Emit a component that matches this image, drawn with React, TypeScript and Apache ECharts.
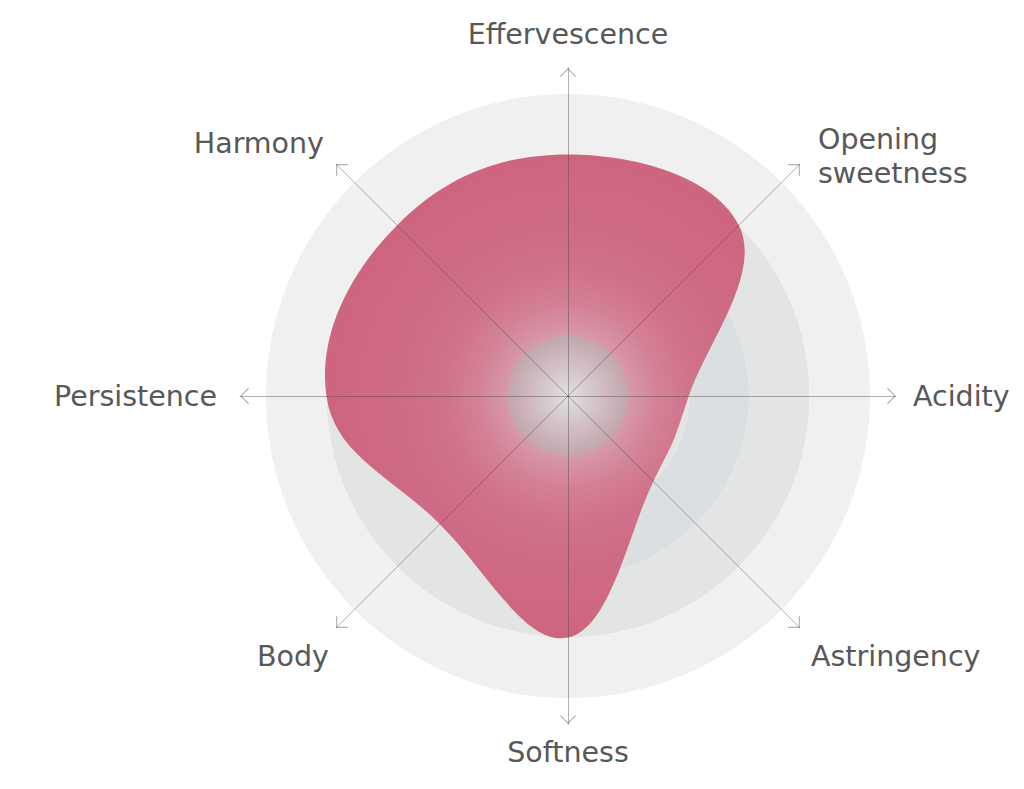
import React, { useEffect, useRef } from 'react';
import * as echarts from 'echarts';

// ---- data (clockwise from top) ----
const categories = ['Effervescence', 'Opening sweetness', 'Acidity', 'Astringency', 'Softness', 'Body', 'Persistence', 'Harmony'];
const values = [4, 4, 2, 2, 4, 3, 4, 4];
const maxValue = 5;
const ringCount = 5;

// ---- styles ----
const CENTER = [568, 396];
const RING_RADIUS = 302;
const AXIS_RADIUS = 328;
const TEXT_COLOR = '#585858';
const FONT = 'DejaVu Sans';
const FONT_SIZE = 28.5;
const PINK = '205,94,122';
// label padding per category [top, right, bottom, left]
const labelPadding = [
  [0, 0, 15, 0],
  [0, 0, 0, 11],
  [0, 0, 0, 7],
  [42, 0, 0, 4],
  [4, 0, 0, 0],
  [42, 0, 0, 0],
  [0, 13, 0, 0],
  [0, 5, 26, 0],
];
const ringColors: any[] = ['#cccccc', '#e4e4e4', '#dcdfe2', '#e3e4e4', '#f0f0f0'];
const centerGlow: any = {
  type: 'radial', x: 0.5, y: 0.5, r: 0.5,
  colorStops: [
    { offset: 0, color: 'rgba(232,232,232,0.8)' },
    { offset: 0.6, color: 'rgba(210,210,210,0.55)' },
    { offset: 1, color: 'rgba(188,188,188,0.5)' },
  ],
};
const ARROW = 'path://M0,10 L10,0 L20,10 L19,11 L10,2 L1,11 Z';

// radar indicators go counter-clockwise, so reorder
const radarOrder = [0, ...categories.map((_, i) => i).slice(1).reverse()];

export default function App() {
  const ref = useRef<HTMLDivElement>(null);
  useEffect(() => {
    if (!ref.current) return;
    const chart = echarts.init(ref.current, null, { renderer: 'svg' });
    const n = categories.length;
    const step = 360 / n;
    const indicator = radarOrder.map((i) => ({ name: categories[i], max: maxValue }));
    const rich: any = {};
    categories.forEach((c, i) => {
      rich['k' + i] = {
        fontSize: FONT_SIZE,
        fontFamily: FONT,
        color: TEXT_COLOR,
        lineHeight: c.includes(' ') ? 34 : 32,
        padding: labelPadding[i],
      };
    });
    const f = 0.2;
    const hidden = {
      axisName: { show: false },
      axisLine: { show: false },
      splitLine: { show: false },
    };
    const option: any = {
      animation: false,
      backgroundColor: '#ffffff',
      radar: [
        {
          center: CENTER,
          radius: RING_RADIUS,
          startAngle: 90,
          shape: 'circle',
          splitNumber: ringCount,
          indicator,
          ...hidden,
          splitArea: { show: true, areaStyle: { color: ringColors } },
          z: 0,
        },
        {
          center: CENTER,
          radius: RING_RADIUS / ringCount,
          startAngle: 90,
          shape: 'circle',
          splitNumber: 1,
          indicator,
          ...hidden,
          splitArea: { show: true, areaStyle: { color: [centerGlow] } },
          z: 6,
        },
        {
          center: CENTER,
          radius: AXIS_RADIUS,
          startAngle: 90,
          shape: 'circle',
          indicator,
          axisNameGap: 10,
          axisName: {
            show: true,
            color: TEXT_COLOR,
            fontSize: FONT_SIZE,
            fontFamily: FONT,
            formatter: (name: string) => {
              const i = categories.indexOf(name);
              return name.split(' ').map((w) => `{k${i}|${w}}`).join('\n');
            },
            rich,
          },
          axisLine: {
            show: true,
            symbol: ['none', ARROW],
            symbolSize: [17, 9],
            symbolOffset: [0, -4.5],
            lineStyle: { color: 'rgba(70,70,70,0.42)', width: 1 },
          },
          splitLine: { show: false },
          splitArea: { show: false },
          z: 10,
        },
      ],
      polar: { center: CENTER, radius: RING_RADIUS },
      angleAxis: { type: 'value', min: 0, max: 360, startAngle: 90, clockwise: true, show: false },
      radiusAxis: { type: 'value', min: 0, max: maxValue, show: false },
      series: [
        {
          type: 'custom',
          coordinateSystem: 'polar',
          z: 5,
          data: values.map((v, i) => [v, i * step]),
          encode: { radius: 0, angle: 1 },
          renderItem: (params: any, api: any) => {
            if (params.dataIndex !== 0) return null;
            const pts = values.map((v, i) => api.coord([v, i * step]));
            const c = api.coord([0, 0]);
            const edge = api.coord([maxValue, 0]);
            const rr = Math.hypot(edge[0] - c[0], edge[1] - c[1]);
            let d = `M${pts[0][0]},${pts[0][1]}`;
            for (let i = 0; i < n; i++) {
              const p0 = pts[(i - 1 + n) % n];
              const p1 = pts[i];
              const p2 = pts[(i + 1) % n];
              const p3 = pts[(i + 2) % n];
              const c1 = [p1[0] + (p2[0] - p0[0]) * f, p1[1] + (p2[1] - p0[1]) * f];
              const c2 = [p2[0] - (p3[0] - p1[0]) * f, p2[1] - (p3[1] - p1[1]) * f];
              d += ` C${c1[0]},${c1[1]} ${c2[0]},${c2[1]} ${p2[0]},${p2[1]}`;
            }
            d += ' Z';
            return {
              type: 'path',
              shape: { pathData: d },
              style: {
                fill: {
                  type: 'radial',
                  x: c[0],
                  y: c[1],
                  r: rr,
                  global: true,
                  colorStops: [
                    { offset: 0, color: `rgba(${PINK},0.15)` },
                    { offset: 0.2, color: `rgba(${PINK},0.56)` },
                    { offset: 0.3, color: `rgba(${PINK},0.74)` },
                    { offset: 0.4, color: `rgba(${PINK},0.84)` },
                    { offset: 0.55, color: `rgba(${PINK},0.9)` },
                    { offset: 0.8, color: `rgba(${PINK},0.95)` },
                    { offset: 1, color: `rgba(${PINK},0.97)` },
                  ],
                },
                stroke: 'none',
              },
            };
          },
        },
      ],
    };
    chart.setOption(option);
    return () => chart.dispose();
  }, []);
  return <div ref={ref} style={{ position: 'fixed', left: 0, top: 0, width: 1024, height: 789 }} />;
}
